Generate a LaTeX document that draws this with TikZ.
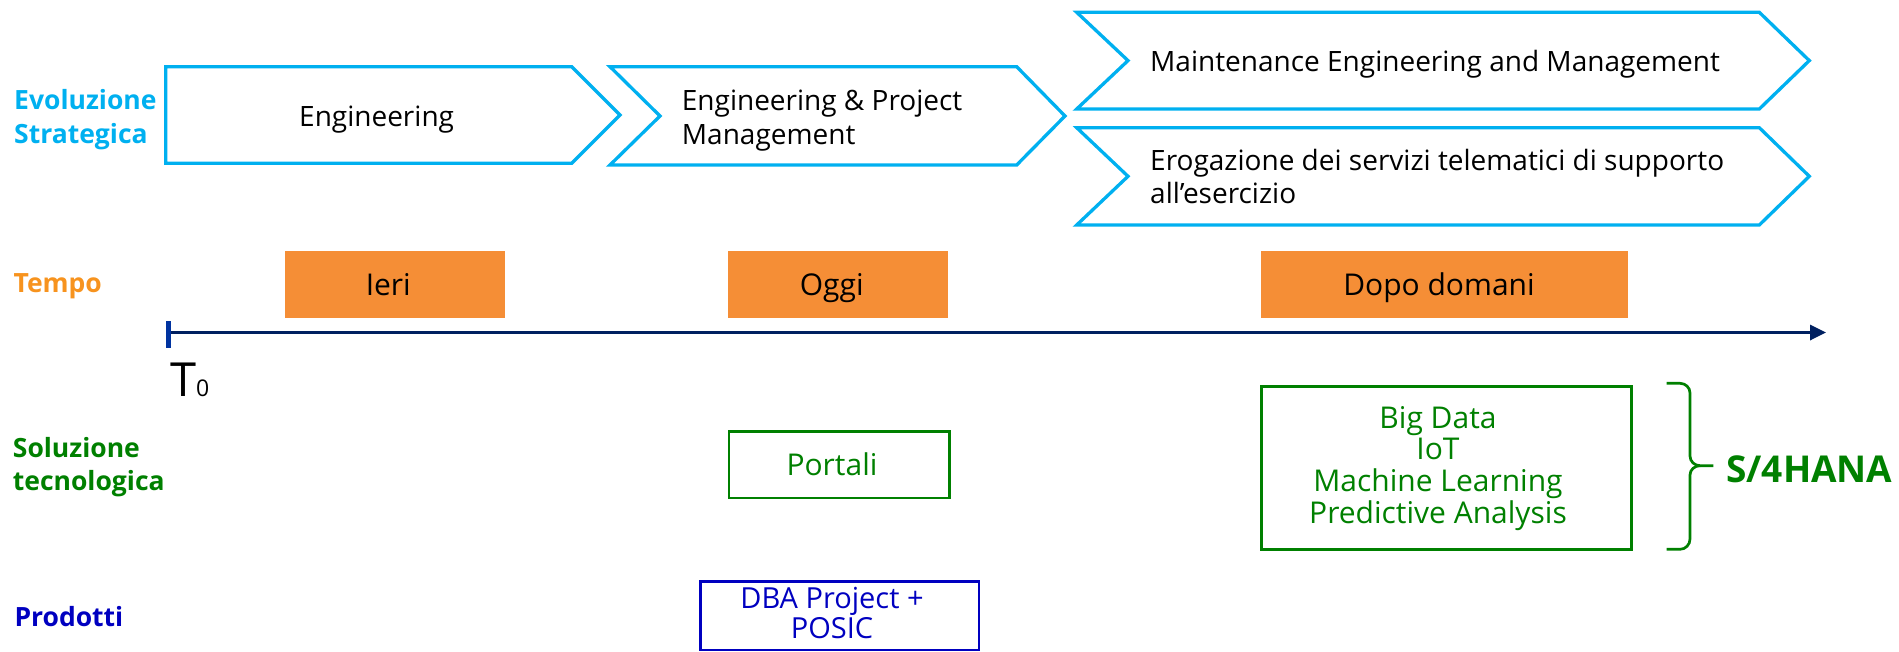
\documentclass[tikz,border=0pt]{standalone}
\usepackage{fontspec}
\setmainfont{Open Sans}
\usetikzlibrary{arrows.meta}
\definecolor{cyanC}{HTML}{00B0F0}
\definecolor{orangeC}{HTML}{F58E36}
\definecolor{orangeL}{HTML}{F7931E}
\definecolor{greenC}{HTML}{008000}
\definecolor{blueC}{HTML}{0000C0}
\definecolor{navyC}{HTML}{002060}
\definecolor{tickC}{HTML}{0033A0}
\begin{document}
\begin{tikzpicture}[x=1pt,y=-1pt,
  chev/.style={draw=cyanC, line width=3.3pt, line join=miter},
  lbl/.style={font=\fontsize{26.5}{34}\selectfont\bfseries, anchor=base west, inner sep=0pt, align=left},
  ctext/.style={font=\fontsize{28}{34}\selectfont, anchor=base west, inner sep=0pt, align=left, text=black},
  obox/.style={fill=orangeC, draw=none, anchor=north west, minimum height=66.3pt, inner sep=0pt},
  otext/.style={font=\fontsize{30}{34}\selectfont, anchor=base, inner sep=0pt, text=black},
  gbox/.style={draw=greenC, line width=2.7pt, anchor=north west, inner sep=0pt},
  gtext/.style={font=\fontsize{30}{31.7}\selectfont, anchor=base, inner sep=0pt, align=center, text=greenC},
  axisline/.style={draw=navyC, line width=3.3pt, -{Triangle[length=16pt,width=15pt]}},
]
\useasboundingbox (0,0) rectangle (1899,651);

% row labels (multi-line nodes: base = last line)
\node[lbl, text=cyanC] (evo) at (14,143.3) {Evoluzione\\Strategica};
\node[lbl, text=orangeL] (tempo) at (13.3,292.7) {Tempo};
\node[lbl, text=greenC, font=\fontsize{26.5}{32.7}\selectfont\bfseries] (sol) at (12.7,490) {Soluzione\\tecnologica};
\node[lbl, text=blueC] (prod) at (14.3,626.7) {Prodotti};

% chevrons
\draw[chev] (165.7,66.7) -- (571.7,66.7) -- (620,115) -- (571.7,163.3) -- (165.7,163.3) -- cycle;
\draw[chev] (610,66.7) -- (1016.7,66.7) -- (1065,116) -- (1016.7,165) -- (610,165) -- (660,116) -- cycle;
\draw[chev] (1076.7,12.3) -- (1759.3,12.3) -- (1809.3,60.6) -- (1759.3,109) -- (1076.7,109) -- (1128,60.6) -- cycle;
\draw[chev] (1076.7,127.7) -- (1759.3,127.7) -- (1809.3,176.3) -- (1759.3,225) -- (1076.7,225) -- (1128,176.3) -- cycle;

\node[ctext] (eng) at (299,126) {Engineering};
\node[ctext, font=\fontsize{28}{34.3}\selectfont] (epm) at (681.7,144.3) {Engineering \& Project\\Management};
\node[ctext] (mem) at (1150,71) {Maintenance Engineering and Management};
\node[ctext, font=\fontsize{28}{33.3}\selectfont] (ero) at (1150,203.3) {Erogazione dei servizi telematici di supporto\\all'esercizio};

% time boxes
\node[obox, minimum width=220pt] (ieriB) at (284.3,251) {};
\node[obox, minimum width=220pt] (oggiB) at (727.7,251) {};
\node[obox, minimum width=366.7pt] (dopoB) at (1261,251) {};
\node[otext] (ieri) at (388.3,295) {Ieri};
\node[otext] (oggi) at (831.7,295) {Oggi};
\node[otext] (dopo) at (1439,295) {Dopo domani};

% time axis
\coordinate (t0) at (168.2,332.5);
\coordinate (tend) at (1826,332.5);
\coordinate (tickTop) at (168.2,321);
\coordinate (tickBot) at (168.2,347.7);
\draw[axisline] (t0) -- (tend);
\draw[draw=tickC, line width=5pt] (tickTop) -- (tickBot);
\node[anchor=base west, inner sep=0pt] (tzero) at (170,396.7) {{\fontsize{47}{47}\selectfont T}{\fontsize{23}{23}\selectfont 0}};

% technology solutions
\node[gbox, minimum width=220.6pt, minimum height=66.7pt] (portB) at (727.7,430) {};
\node[gtext] (port) at (832,475) {Portali};
\node[gbox, minimum width=370pt, minimum height=163.3pt] (bigB) at (1260,385) {};
\node[gtext] (big) at (1438,523.3) {Big Data\\IoT\\Machine Learning\\Predictive Analysis};

% brace and S/4HANA
\coordinate (brTop) at (1666.7,383.3);
\coordinate (brTip) at (1713.3,465.7);
\coordinate (brBot) at (1666.7,549.3);
\draw[draw=greenC, line width=2.7pt] (brTop) -- (1680,383.3) to[out=0,in=90] (1690,393) -- (1690,456) to[out=-90,in=180] (1700,465.7) -- (brTip);
\draw[draw=greenC, line width=2.7pt] (1700,465.7) to[out=180,in=90] (1690,475) -- (1690,539) to[out=-90,in=0] (1680,549.3) -- (brBot);
\node[anchor=base west, inner sep=0pt, text=greenC, font=\fontsize{37}{37}\selectfont\bfseries] (s4) at (1726,482.3) {S/4HANA};

% products
\node[draw=blueC, line width=2.7pt, anchor=north west, inner sep=0pt, minimum width=278.7pt, minimum height=68.5pt] (dbaB) at (699,580) {};
\node[gtext, text=blueC, font=\fontsize{29}{30}\selectfont] (dba) at (832,638.3) {DBA Project +\\POSIC};
\end{tikzpicture}
\end{document}
